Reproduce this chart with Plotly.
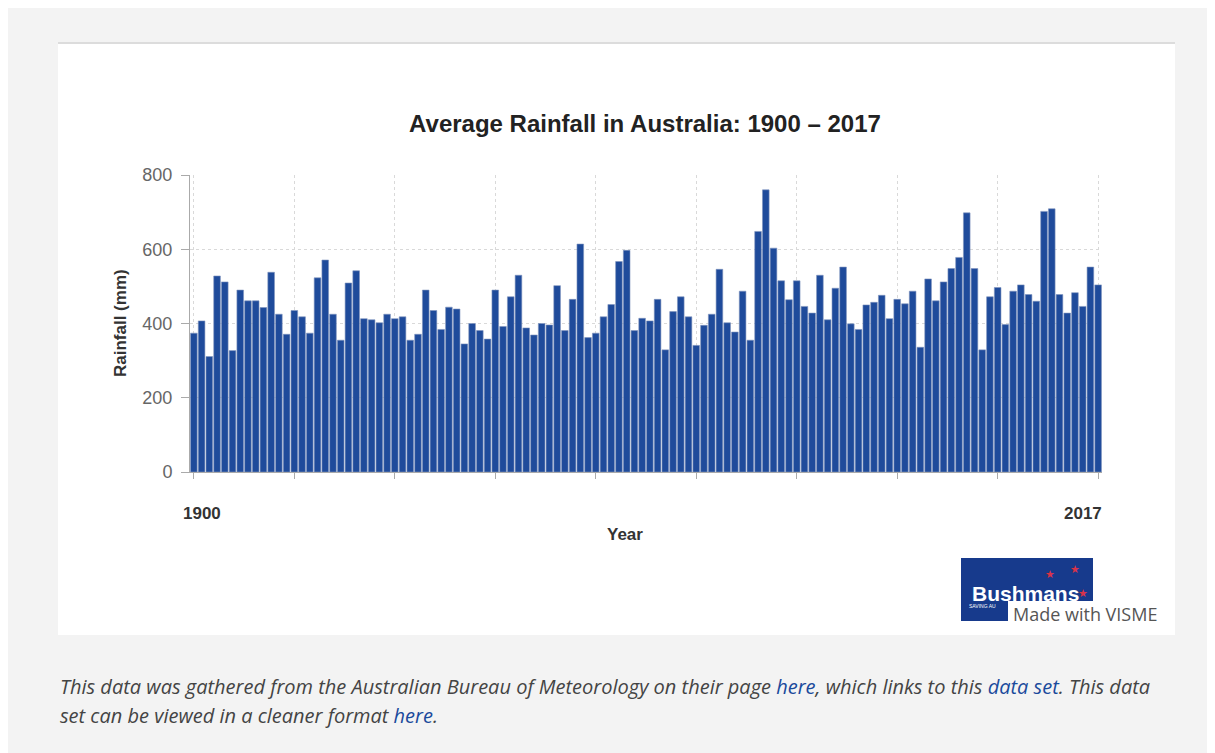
import plotly.graph_objs as go

# Average annual rainfall in Australia (mm)
years = list(range(1900, 2018))
rainfall = [
    374, 407, 311, 528, 512, 327, 490, 461, 461, 443,
    538, 425, 371, 435, 418, 374, 523, 571, 425, 355,
    509, 542, 413, 410, 402, 425, 413, 418, 355, 371,
    490, 435, 384, 444, 439, 345, 400, 381, 358, 490,
    392, 472, 530, 388, 369, 400, 396, 502, 381, 465,
    614, 362, 374, 418, 451, 567, 597, 381, 414, 407,
    465, 329, 432, 472, 418, 341, 395, 425, 546, 402,
    377, 487, 355, 648, 760, 603, 515, 464, 515, 446,
    428, 530, 410, 495, 552, 399, 384, 450, 457, 476,
    413, 465, 453, 487, 336, 520, 461, 512, 548, 578,
    698, 548, 329, 472, 497, 397, 487, 504, 478, 460,
    702, 709, 478, 428, 483, 446, 552, 504,
]
tick_years = list(range(1900, 2018, 13))
y_ticks = [0, 200, 400, 600, 800]

# the page body adds an 8px margin, so the figure is shifted by that
OFF = 8
W, H = 1215 - OFF, 753 - OFF
L, R, T, B = 190, 1102, 175, 472   # plot area in window pixels


def px(x):
    return (x - L) / (R - L)


def py(y):
    return (B - y) / (B - T)


def note(text, x, y, size, color="#333333", family="Liberation Sans", **kw):
    d = dict(text=text, x=px(x), y=py(y), xref="paper", yref="paper",
             xanchor="center", yanchor="middle", showarrow=False,
             font=dict(family=family, size=size, color=color))
    d.update(kw)
    return d


fig = go.Figure()
fig.add_trace(go.Bar(
    x=years,
    y=rainfall,
    marker=dict(color="#1f4b9b", line=dict(color="#7f93bd", width=0.6)),
    width=0.86,
    showlegend=False,
))

shapes = [
    # white card
    dict(type="rect", xref="paper", yref="paper", layer="below",
         x0=px(58), x1=px(1175), y0=py(635), y1=py(43),
         fillcolor="white", line=dict(width=0)),
    dict(type="line", xref="paper", yref="paper", layer="below",
         x0=px(58), x1=px(1175), y0=py(43), y1=py(43),
         line=dict(color="#dcdcdc", width=2)),
    # logo box
    dict(type="rect", xref="paper", yref="paper",
         x0=px(961), x1=px(1093), y0=py(621), y1=py(558),
         fillcolor="#173a8c", line=dict(width=0)),
    dict(type="rect", xref="paper", yref="paper",
         x0=px(1008), x1=px(1163), y0=py(627), y1=py(601),
         fillcolor="white", line=dict(width=0)),
]

link = "#1a4a9c"
annotations = [
    note("<b>Rainfall (mm)</b>", 120, 323, 17, textangle=-90),
    note("<b>Year</b>", 625, 534, 17),
    note("<b>1900</b>", 202, 513, 17),
    note("<b>2017</b>", 1083, 513, 17),
    note("<b>Bushmans</b>", 1025, 593, 21, color="white"),
    note("SAVING AU", 982, 606, 5, color="white"),
    note("★", 1050, 574, 11, color="#d6334a"),
    note("★", 1075, 569, 11, color="#d6334a"),
    note("★", 1083, 593, 11, color="#d6334a"),
    note("Made with VISME", 1085, 614, 18, color="#555555", family="Open Sans"),
    note("<i>This data was gathered from the Australian Bureau of Meteorology on their page "
         f"<span style='color:{link}'>here</span>, which links to this "
         f"<span style='color:{link}'>data set</span>. This data</i>",
         58, 686, 20, color="#444444", family="Open Sans", xanchor="left"),
    note(f"<i>set can be viewed in a cleaner format <span style='color:{link}'>here</span>.</i>",
         58, 715, 20, color="#444444", family="Open Sans", xanchor="left"),
]

fig.update_layout(
    width=W, height=H,
    margin=dict(l=L - OFF, r=W - (R - OFF), t=T - OFF, b=H - (B - OFF)),
    paper_bgcolor="#f3f3f3",
    plot_bgcolor="white",
    title=dict(text="<b>Average Rainfall in Australia: 1900 – 2017</b>",
               x=px(645), xref="paper", xanchor="center",
               y=1 - (124 - OFF) / H, yref="container", yanchor="middle",
               font=dict(family="Liberation Sans", size=24, color="#222222")),
    xaxis=dict(range=[1899.5, 2017.5], tickvals=tick_years, showticklabels=False,
               ticks="outside", ticklen=6, tickcolor="#aaaaaa",
               showline=True, linecolor="#aaaaaa", linewidth=1,
               showgrid=True, gridcolor="#d9d9d9", griddash="dot", zeroline=False),
    yaxis=dict(range=[0, 800], tickvals=y_ticks, ticks="outside", ticklen=8,
               tickcolor="#aaaaaa", showline=True, linecolor="#aaaaaa", linewidth=1,
               tickfont=dict(family="Liberation Sans", size=18, color="#666666"),
               ticklabelstandoff=5,
               showgrid=True, gridcolor="#d9d9d9", griddash="dot", zeroline=False),
    shapes=shapes,
    annotations=annotations,
    bargap=0.14,
)

fig.write_html("out.html")
